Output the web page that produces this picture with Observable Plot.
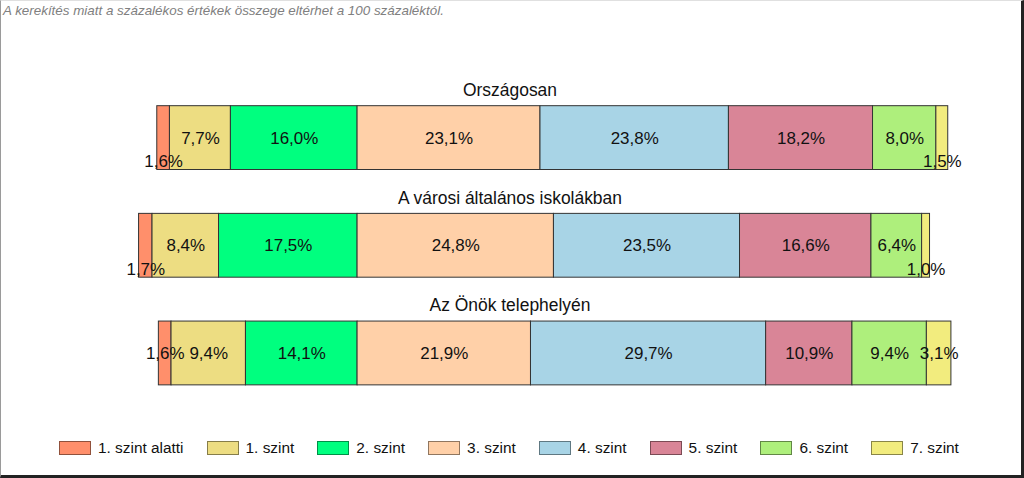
<!DOCTYPE html>
<html>
<head>
<meta charset="utf-8">
<script src="https://cdn.jsdelivr.net/npm/d3@7"></script>
<script src="https://cdn.jsdelivr.net/npm/@observablehq/plot@0.6"></script>
<style>
  html, body { margin: 0; padding: 0; background: #fff; }
  #wrap { position: relative; width: 1024px; height: 478px; box-sizing: border-box;
          border-left: 1px solid #9a9a9a; border-top: 1px solid #e0e0e0;
          border-right: 3px solid #222; border-bottom: 3px solid #222;
          font-family: "Liberation Sans", Arial, sans-serif; overflow: hidden; }
  #note { position: absolute; left: 2px; top: 2px; font-size: 13.4px; font-style: italic; color: #808080; white-space: nowrap; }
  #chart { position: absolute; left: -1px; top: -1px; }
  #legend { position: absolute; left: 58px; top: 438px; display: flex; gap: 23px; }
  .item { display: flex; align-items: center; font-size: 15.4px; color: #111; white-space: nowrap; flex: none; }
  .sw { width: 30px; height: 12px; margin-right: 7px; flex: none; }
</style>
</head>
<body>
<div id="wrap">
  <div id="chart"></div>
  <div id="note">A kerekítés miatt a  százalékos értékek összege eltérhet a 100 százaléktól.</div>
  <div id="legend"></div>
</div>
<script>
const groups = ["Országosan", "A városi általános iskolákban", "Az Önök telephelyén"];
const levels = ["1. szint alatti", "1. szint", "2. szint", "3. szint", "4. szint", "5. szint", "6. szint", "7. szint"];
const colors = ["#FF8F6B", "#EDDD82", "#00FF7F", "#FFD0A8", "#A8D4E6", "#D98597", "#AEEF7C", "#F2EC7E"];
const orszagosan = [1.6, 7.7, 16.0, 23.1, 23.8, 18.2, 8.0, 1.5];
const varosi     = [1.7, 8.4, 17.5, 24.8, 23.5, 16.6, 6.4, 1.0];
const telephely  = [1.6, 9.4, 14.1, 21.9, 29.7, 10.9, 9.4, 3.1];
const seriesByGroup = [orszagosan, varosi, telephely];

// diverging baseline: between "2. szint" and "3. szint"
const rows = [];
groups.forEach((g, gi) => {
  const vals = seriesByGroup[gi];
  const base = d3.sum(vals.slice(0, 3));
  let acc = -base;
  vals.forEach((v, i) => {
    rows.push({group: g, level: levels[i], value: v, x1: acc, x2: acc + v, mid: acc + v / 2, idx: i});
    acc += v;
  });
});
// labels of thin end segments that would collide with the neighbour's label drop to the bar's bottom
const labelSpan = 5.2;
rows.forEach(r => {
  const same = rows.filter(s => s.group === r.group);
  let low = false;
  if (r.idx === 0) low = Math.abs(same[1].mid - r.mid) < labelSpan;
  if (r.idx === levels.length - 1) low = Math.abs(same[r.idx - 1].mid - r.mid) < labelSpan;
  r.low = low;
});
const fmt = v => v.toFixed(1).replace(".", ",") + "%";

const chart = Plot.plot({
  width: 1024,
  height: 478,
  marginLeft: 0,
  marginRight: 2,
  marginTop: 61.5,
  marginBottom: 46.5,
  style: {fontFamily: "Liberation Sans, Arial, sans-serif", background: "transparent"},
  x: {domain: [-45.1, 83.6], axis: null},
  y: {domain: groups, padding: 0.404, axis: null},
  color: {domain: levels, range: colors},
  marks: [
    Plot.barX(rows, {x1: "x1", x2: "x2", y: "group", fill: "level", stroke: "#333", strokeWidth: 1, inset: 0}),
    Plot.text(rows.filter(r => !r.low), {x: "mid", y: "group", text: d => fmt(d.value), fontSize: 17, fill: "#111"}),
    Plot.text(rows.filter(r => r.low), {x: "mid", y: "group", text: d => fmt(d.value), fontSize: 17, fill: "#111", dy: 24}),
    Plot.text(groups, {y: d => d, text: d => d, dy: -48, fontSize: 17.5, fill: "#111"})
  ]
});
document.getElementById("chart").appendChild(chart);

const legend = document.getElementById("legend");
levels.forEach((l, i) => {
  const it = document.createElement("div");
  it.className = "item";
  const sw = document.createElement("span");
  sw.className = "sw";
  sw.style.background = colors[i];
  sw.style.border = "1px solid " + d3.color(colors[i]).darker(1.6);
  it.appendChild(sw);
  it.appendChild(document.createTextNode(l));
  legend.appendChild(it);
});
</script>
</body>
</html>
